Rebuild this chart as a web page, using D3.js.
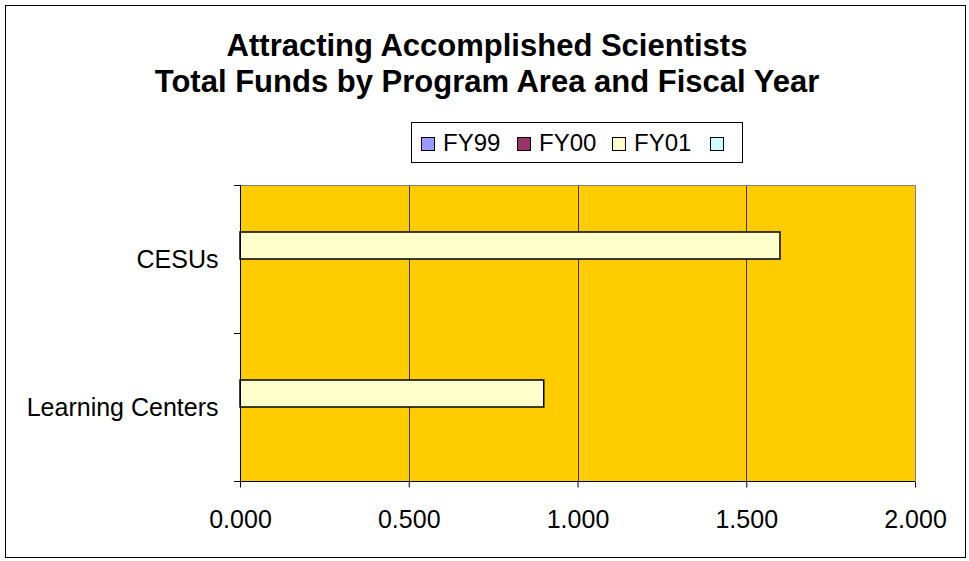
<!DOCTYPE html>
<html>
<head>
<meta charset="utf-8">
<script src="https://cdn.jsdelivr.net/npm/d3@7"></script>
<style>
  body { margin: 0; background: #fff; }
  text { font-family: "Liberation Sans", Arial, sans-serif; fill: #000; }
</style>
</head>
<body>
<div id="chart"></div>
<script>
const categories = ["CESUs", "Learning Centers"];
const seriesNames = ["FY99", "FY00", "FY01", ""];
const seriesColors = ["#9999ff", "#993366", "#ffffcc", "#ccffff"];
// values per series, in category order (FY99 and FY00 are empty)
const fy99 = [0, 0];
const fy00 = [0, 0];
const fy01 = [1.6, 0.9];
const blank = [0, 0];
const xTicks = [0, 0.5, 1.0, 1.5, 2.0];
const titleLines = ["Attracting Accomplished Scientists", "Total Funds by Program Area and Fiscal Year"];

const seriesValues = [fy99, fy00, fy01, blank];

const W = 969, H = 561;
const plot = { left: 240, top: 185, right: 915, bottom: 481 };

const svg = d3.select("#chart").append("svg")
  .attr("width", W)
  .attr("height", H);

// outer frame
svg.append("rect")
  .attr("x", 5.5).attr("y", 5.5)
  .attr("width", 960).attr("height", 552)
  .attr("fill", "#fff")
  .attr("stroke", "#000")
  .attr("stroke-width", 1);

// title
svg.append("g").selectAll("text")
  .data(titleLines)
  .join("text")
  .attr("x", 487)
  .attr("y", (d, i) => 56 + i * 36)
  .attr("text-anchor", "middle")
  .style("font-size", "31px")
  .style("font-weight", "bold")
  .text(d => d);

const xScale = d3.scaleLinear().domain([0, 2]).range([plot.left, plot.right]);
// Excel draws the first category at the bottom
const yScale = d3.scaleBand().domain(categories.slice().reverse()).range([plot.bottom, plot.top]);
// series stack upward inside each band: first series at the bottom
const inner = d3.scaleBand()
  .domain(d3.range(seriesNames.length).reverse())
  .range([20, yScale.bandwidth() - 20]);

// plot area fill
svg.append("rect")
  .attr("x", plot.left).attr("y", plot.top)
  .attr("width", plot.right - plot.left)
  .attr("height", plot.bottom - plot.top)
  .attr("fill", "#ffcc00");

// grid lines
svg.append("g").selectAll("line")
  .data(xTicks.slice(1, -1))
  .join("line")
  .attr("x1", d => Math.round(xScale(d)) + 0.5)
  .attr("x2", d => Math.round(xScale(d)) + 0.5)
  .attr("y1", plot.top)
  .attr("y2", plot.bottom)
  .attr("stroke", "#333")
  .attr("stroke-width", 1);

// plot area border (top and right grey)
svg.append("path")
  .attr("d", `M${plot.left},${plot.top + 0.5}H${plot.right + 0.5}V${plot.bottom}`)
  .attr("fill", "none")
  .attr("stroke", "#808080")
  .attr("stroke-width", 1);

// bars
seriesValues.forEach((vals, si) => {
  svg.append("g").selectAll("rect")
    .data(vals.map((v, ci) => ({ v, c: categories[ci] })).filter(d => d.v > 0))
    .join("rect")
    .attr("x", xScale(0))
    .attr("y", d => yScale(d.c) + inner(si))
    .attr("width", d => xScale(d.v) - xScale(0))
    .attr("height", inner.bandwidth())
    .attr("fill", seriesColors[si])
    .attr("stroke", "#000")
    .attr("stroke-width", 1.5);
});

// x axis
const xAxis = svg.append("g")
  .attr("transform", `translate(0,${plot.bottom + 0.5})`)
  .call(d3.axisBottom(xScale).tickValues(xTicks).tickFormat(d3.format(".3f")).tickSizeOuter(0).tickSize(6).tickPadding(23));
xAxis.select(".domain").attr("stroke", "#000").attr("d", `M${plot.left - 6},0H${plot.right}`);
xAxis.selectAll(".tick line").attr("stroke", "#000");
xAxis.selectAll("text").style("font-size", "25px").attr("fill", "#000");

// y axis
const yAxis = svg.append("g")
  .attr("transform", `translate(${plot.left + 0.5},0)`)
  .call(d3.axisLeft(yScale).tickSize(0).tickPadding(22));
yAxis.select(".domain").attr("stroke", "#000").attr("d", `M0,${plot.top}V${plot.bottom + 6}`);
yAxis.selectAll("text").style("font-size", "25px").attr("fill", "#000").attr("dy", "0.36em");
// category boundary ticks
svg.append("g").selectAll("line")
  .data(categories)
  .join("line")
  .attr("x1", plot.left - 6)
  .attr("x2", plot.left)
  .attr("y1", d => Math.round(yScale(d)) + 0.5)
  .attr("y2", d => Math.round(yScale(d)) + 0.5)
  .attr("stroke", "#000");

// legend
const legend = svg.append("g");
legend.append("rect")
  .attr("x", 411.5).attr("y", 122.5)
  .attr("width", 331).attr("height", 40)
  .attr("fill", "#fff")
  .attr("stroke", "#000");
const legendX = [421, 517, 612, 710];
const items = legend.selectAll("g.item")
  .data(seriesNames)
  .join("g")
  .attr("class", "item")
  .attr("transform", (d, i) => `translate(${legendX[i]},137)`);
items.append("rect")
  .attr("x", 0.5).attr("y", 0.5)
  .attr("width", 13).attr("height", 13)
  .attr("fill", (d, i) => seriesColors[i])
  .attr("stroke", "#000");
items.append("text")
  .attr("x", 22)
  .attr("y", 14)
  .style("font-size", "24px")
  .text(d => d);
</script>
</body>
</html>
